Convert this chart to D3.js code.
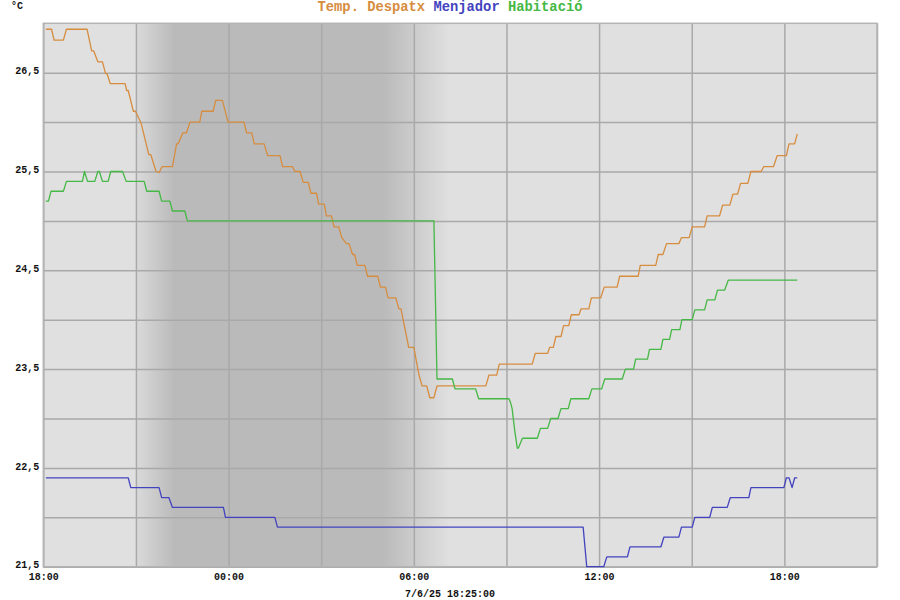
<!DOCTYPE html>
<html><head><meta charset="utf-8">
<script src="https://cdn.jsdelivr.net/npm/d3@7"></script>
<style>
body{margin:0;background:#fff}
svg{display:block}
text{font-family:"Liberation Mono","Courier New",monospace;font-weight:bold}
</style>
</head><body>
<svg id="chart" width="900" height="600"></svg>
<script>
// ---- data ----
const seriesNames = ["Temp. Despatx", "Menjador", "Habitació"];
const seriesColors = ["#d68d40", "#4343bf", "#45b845"];
const unitLabel = "°C";
const stampLabel = "7/6/25 18:25:00";
const startDay = [2025, 5, 6, 18, 0];   // 6 June 2025 18:00
const endDay = [2025, 5, 7, 21, 0];     // 7 June 2025 21:00
const nightStart = ["21:00", "22:15"];  // dusk fade
const nightEnd = ["05:00", "07:10"];    // dawn fade
const yTicks = [21.5, 22, 22.5, 23, 23.5, 24, 24.5, 25, 25.5, 26, 26.5];
const yLabels = [21.5, 22.5, 23.5, 24.5, 25.5, 26.5];

const despatxTimes = ["18:05","18:16","18:21","18:39","18:45","19:25","19:34","19:38","19:46","19:55","20:01","20:04","20:10","20:39","20:42","20:45","20:55","20:59","21:10","21:25","21:29","21:39","21:45","21:51","22:11","22:19","22:22","22:31","22:38","22:45","23:04","23:08","23:30","23:35","23:48","23:59","00:30","00:35","00:45","00:50","01:09","01:16","01:40","01:45","02:04","02:09","02:19","02:25","02:35","02:40","02:51","02:55","03:06","03:10","03:20","03:25","03:34","03:40","03:49","03:54","04:01","04:05","04:10","04:25","04:30","04:50","04:55","05:05","05:10","05:25","05:31","05:35","05:50","06:00","06:10","06:16","06:25","06:31","06:39","06:45","08:20","08:26","08:41","08:46","09:50","09:56","10:20","10:24","10:31","10:36","10:46","10:51","11:01","11:06","11:21","11:25","11:40","11:45","12:03","12:10","12:35","12:40","13:16","13:20","13:50","13:55","14:04","14:11","14:35","14:40","14:55","15:01","15:25","15:30","15:54","16:00","16:14","16:20","16:29","16:35","16:49","16:55","17:15","17:20","17:39","17:46","18:04","18:09","18:20","18:25"];
const despatxValues = [26.94,26.94,26.83,26.83,26.94,26.94,26.72,26.72,26.61,26.61,26.49,26.49,26.39,26.39,26.32,26.32,26.11,26.11,25.99,25.67,25.67,25.50,25.49,25.55,25.55,25.78,25.78,25.89,25.89,26.00,26.00,26.11,26.11,26.22,26.22,26.00,26.00,25.89,25.89,25.78,25.78,25.66,25.66,25.55,25.55,25.50,25.50,25.39,25.39,25.28,25.28,25.17,25.17,25.05,25.05,24.94,24.94,24.83,24.77,24.77,24.66,24.66,24.55,24.55,24.44,24.44,24.33,24.33,24.22,24.22,24.11,24.11,23.72,23.72,23.44,23.33,23.33,23.21,23.21,23.33,23.33,23.44,23.44,23.55,23.55,23.66,23.66,23.72,23.72,23.83,23.83,23.94,23.94,24.05,24.05,24.11,24.11,24.22,24.22,24.33,24.33,24.44,24.44,24.55,24.55,24.66,24.66,24.77,24.77,24.83,24.83,24.94,24.94,25.05,25.05,25.16,25.16,25.27,25.27,25.38,25.38,25.50,25.50,25.55,25.55,25.66,25.66,25.78,25.78,25.88];

const menjadorTimes = ["18:05","20:45","20:50","21:45","21:50","22:04","22:11","23:50","23:54","01:30","01:35","11:29","11:36","12:09","12:15","12:55","13:00","14:00","14:06","14:35","14:40","15:01","15:06","15:35","15:40","16:09","16:15","16:51","16:55","17:59","18:04","18:09","18:15","18:20","18:25"];
const menjadorValues = [22.4,22.4,22.3,22.3,22.2,22.2,22.1,22.1,22.0,22.0,21.9,21.9,21.5,21.5,21.6,21.6,21.7,21.7,21.8,21.8,21.9,21.9,22.0,22.0,22.1,22.1,22.2,22.2,22.3,22.3,22.4,22.4,22.3,22.4,22.4];

const habitacioTimes = ["18:05","18:10","18:15","18:39","18:45","19:16","19:20","19:26","19:40","19:46","19:49","19:55","20:06","20:11","20:34","20:41","21:16","21:21","21:45","21:50","22:06","22:11","22:35","22:40","06:39","06:45","07:15","07:20","08:00","08:06","09:05","09:08","09:11","09:16","09:21","09:23","09:31","10:00","10:06","10:20","10:26","10:40","10:46","11:00","11:05","11:40","11:46","12:05","12:11","12:45","12:51","13:07","13:11","13:34","13:38","14:00","14:04","14:17","14:21","14:37","14:41","15:01","15:06","15:25","15:30","15:45","15:50","16:04","16:11","18:25"];
const habitacioValues = [25.2,25.2,25.3,25.3,25.4,25.4,25.5,25.4,25.4,25.5,25.5,25.4,25.4,25.5,25.5,25.4,25.4,25.3,25.3,25.2,25.2,25.1,25.1,25.0,25.0,23.4,23.4,23.3,23.3,23.2,23.2,23.16,23.1,22.88,22.7,22.7,22.8,22.8,22.9,22.9,23.0,23.0,23.1,23.1,23.2,23.2,23.3,23.3,23.4,23.4,23.5,23.5,23.6,23.6,23.7,23.7,23.8,23.8,23.9,23.9,24.0,24.0,24.1,24.1,24.2,24.2,24.3,24.3,24.4,24.4];

// ---- helpers ----
function toDates(times) {
  let day = startDay[2], prev = -1;
  return times.map(t => {
    const [h, m] = t.split(":").map(Number);
    const mm = h * 60 + m;
    if (mm < prev) day++;
    prev = mm;
    return new Date(startDay[0], startDay[1], day, h, m);
  });
}
function makeSeries(times, values) {
  const ds = toDates(times);
  return ds.map((t, i) => ({t, v: values[i]}));
}
const series = [
  makeSeries(despatxTimes, despatxValues),
  makeSeries(menjadorTimes, menjadorValues),
  makeSeries(habitacioTimes, habitacioValues)
];

// ---- layout ----
const L = 43.3, R = 877, T = 23.3, B = 566.7;
const svg = d3.select("#chart");
const x = d3.scaleTime().domain([new Date(...startDay), new Date(...endDay)]).range([L, R]);
const y = d3.scaleLinear().domain([21.5, 27]).range([B, T]);

// night gradient
const nightDates = toDates(["18:00", nightStart[0], nightStart[1], nightEnd[0], nightEnd[1]]).slice(1);
const off = d => ((x(d) - L) / (R - L) * 100) + "%";
const grad = svg.append("defs").append("linearGradient").attr("id", "night")
  .attr("x1", "0%").attr("x2", "100%").attr("y1", "0%").attr("y2", "0%");
const stops = [
  [0, "#e0e0e0"],
  [off(nightDates[0]), "#e0e0e0"],
  [off(nightDates[0]), "#dadada"],
  [off(nightDates[1]), "#bababa"],
  [off(nightDates[2]), "#bababa"],
  [off(nightDates[3]), "#e0e0e0"],
  ["100%", "#e0e0e0"]
];
stops.forEach(s => grad.append("stop").attr("offset", s[0]).attr("stop-color", s[1]));

svg.append("rect").attr("x", L).attr("y", T).attr("width", R - L).attr("height", B - T)
  .attr("fill", "url(#night)");

// grid
const gx = svg.append("g").attr("transform", `translate(0,${B})`)
  .call(d3.axisBottom(x).ticks(d3.timeHour.every(3)).tickSize(-(B - T)).tickFormat(""));
gx.select(".domain").remove();
gx.selectAll("line").attr("stroke", "#a9a9a9").attr("stroke-width", 1.5);

const gy = svg.append("g").attr("transform", `translate(${L},0)`)
  .call(d3.axisLeft(y).tickValues(yTicks).tickSize(-(R - L)).tickFormat(""));
gy.select(".domain").remove();
gy.selectAll("line").attr("stroke", "#a9a9a9").attr("stroke-width", 1.5);

// frame
svg.append("rect").attr("x", L).attr("y", T).attr("width", R - L).attr("height", B - T)
  .attr("fill", "none").attr("stroke", "#b4b4b4").attr("stroke-width", 1.5);

// lines
const line = d3.line().x(d => x(d.t)).y(d => y(d.v));
series.forEach((s, i) => {
  svg.append("path").datum(s).attr("d", line).attr("fill", "none")
    .attr("stroke", seriesColors[i]).attr("stroke-width", 1.3).attr("stroke-linejoin", "round");
});

// axis labels
const ax = svg.append("g").attr("transform", `translate(0,${B})`)
  .call(d3.axisBottom(x).ticks(d3.timeHour.every(6)).tickSize(0).tickPadding(6)
    .tickFormat(d => x(d) > R - 5 ? "" : d3.timeFormat("%H:%M")(d)));
ax.select(".domain").remove();
ax.selectAll("text").attr("font-size", 10).attr("fill", "#111")
  .attr("font-family", "Liberation Mono, monospace").attr("font-weight", "bold");

const ay = svg.append("g").attr("transform", `translate(${L},-2)`)
  .call(d3.axisLeft(y).tickValues(yLabels).tickSize(0).tickPadding(4)
    .tickFormat(d => d3.format(".1f")(d).replace(".", ",")));
ay.select(".domain").remove();
ay.selectAll("text").attr("font-size", 10).attr("fill", "#111")
  .attr("font-family", "Liberation Mono, monospace").attr("font-weight", "bold");

svg.append("text").attr("x", 11).attr("y", 9).attr("font-size", 10).attr("fill", "#111").text(unitLabel);

// legend
const lg = svg.append("text").attr("x", 450).attr("y", 11).attr("text-anchor", "middle").attr("font-size", 13.8);
seriesNames.forEach((n, i) => {
  lg.append("tspan").attr("fill", seriesColors[i]).text((i ? " " : "") + n);
});

svg.append("text").attr("x", 450).attr("y", 597).attr("text-anchor", "middle")
  .attr("font-size", 10).attr("fill", "#111").text(stampLabel);
</script>
</body></html>
